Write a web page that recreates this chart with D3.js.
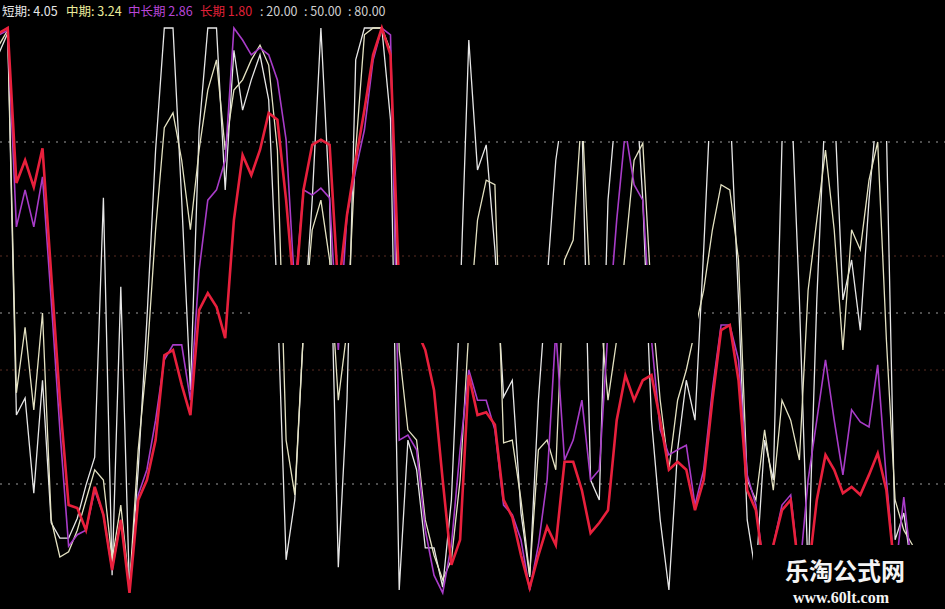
<!DOCTYPE html>
<html>
<head>
<meta charset="utf-8">
<script src="https://cdn.jsdelivr.net/npm/d3@7"></script>
<style>
  html, body { margin: 0; padding: 0; background: #000; }
  svg { display: block; }
</style>
</head>
<body>
<svg width="945" height="609"></svg>
<script>
// indicator values per bar (0..100)
const shortLine = [
  95.6, 99.1, 32.1, 35.1, 18.4, 38.2, 13.2, 10.5, 10.5, 14.0,
  19.8, 24.7, 70.2, 4.0, 54.6, 1.1, 22.5, 48.8, 78.6, 100,
  100, 69.8, 36.5, 82.1, 100, 100, 71.6, 96.1, 85.6, 90.9,
  95.3, 87.4, 52.3, 6.7, 17.2, 47.0, 69.8, 100, 69.8, 5.4,
  34.7, 94.4, 100, 100, 100, 83.9, 1.4, 27.7, 22.5, 8.8,
  8.8, 1.9, 17.2, 52.3, 97.9, 75.1, 79.5, 61.1, 35.3, 38.2,
  14.9, 3.7, 34.7, 55.8, 76.8, 87.4, 87.4, 83.9, 20.7, 17.2,
  69.8, 87.4, 90.9, 94.4, 69.8, 31.2, 13.7, 1.4, 26.0, 38.2,
  31.2, 61.1, 94.4, 94.4, 87.4, 52.3, 13.7, 4.0, 27.7, 20.7,
  80.0, 90.9, 52.3, 4.0, 52.3, 87.4, 87.4, 52.3, 59.3, 47.0,
  69.8, 87.4, 82.1, 10.2, 14.9, 4.0
];
const midLine = [
  97.0, 99.6, 36.0, 47.5, 33.0, 50.0, 13.7, 7.2, 8.1, 11.9,
  17.2, 22.5, 20.7, 6.7, 16.3, 1.9, 26.0, 41.8, 64.6, 82.5,
  85.1, 76.8, 64.6, 78.6, 89.1, 94.4, 78.6, 89.1, 90.9, 94.4,
  97.0, 93.5, 78.6, 27.7, 18.1, 47.0, 64.6, 69.8, 59.3, 34.7,
  47.0, 78.6, 98.8, 100, 100, 96.1, 43.5, 29.5, 27.7, 13.7,
  7.5, 3.2, 6.7, 20.7, 47.0, 66.3, 73.3, 72.5, 27.2, 27.7,
  17.2, 4.0, 26.0, 27.7, 22.5, 59.3, 62.8, 85.6, 52.3, 52.3,
  34.7, 45.3, 61.1, 76.8, 79.8, 52.3, 34.7, 22.5, 34.7, 40.0,
  47.0, 54.0, 64.6, 72.5, 71.6, 59.3, 20.7, 17.2, 29.5, 18.9,
  34.7, 31.2, 24.2, 54.0, 66.3, 78.6, 64.6, 43.5, 64.6, 61.1,
  73.3, 80.0, 45.3, 17.2, 11.9, 9.3
];
const midLongLine = [
  98.8, 99.6, 65.1, 71.6, 65.1, 73.9, 52.3, 29.5, 9.1, 11.1,
  11.9, 18.9, 14.6, 4.9, 13.7, 1.4, 18.1, 22.5, 31.2, 41.8,
  44.4, 44.4, 34.7, 57.5, 69.8, 71.6, 76.8, 100, 97.9, 95.3,
  96.5, 95.3, 90.9, 80.4, 54.0, 71.6, 70.7, 71.9, 70.2, 43.5,
  67.2, 75.1, 82.1, 94.4, 100, 98.8, 27.7, 28.6, 26.0, 11.9,
  4.0, 0.9, 9.3, 26.0, 40.0, 34.7, 34.7, 29.5, 16.3, 14.6,
  10.2, 1.4, 9.3, 20.7, 47.0, 24.2, 27.7, 34.7, 20.7, 22.5,
  47.0, 66.3, 82.1, 72.5, 69.8, 45.3, 29.5, 25.1, 26.0, 26.8,
  16.3, 22.5, 36.5, 47.9, 47.9, 41.8, 21.6, 16.3, 4.0, 9.3,
  16.3, 18.1, 4.0, 20.7, 31.2, 41.8, 31.2, 21.6, 33.0, 30.9,
  30.0, 40.9, 20.7, 4.0, 17.7, 4.0
];
const longLine = [
  99.1, 100, 72.8, 76.8, 72.1, 78.9, 56.8, 34.7, 16.3, 15.8,
  11.9, 19.5, 14.6, 4.9, 13.7, 0.9, 17.2, 20.7, 27.7, 42.6,
  43.5, 37.4, 32.1, 50.5, 53.5, 51.1, 45.6, 66.3, 77.7, 74.2,
  78.6, 85.1, 83.9, 69.8, 52.3, 71.6, 79.5, 80.4, 79.5, 54.0,
  67.2, 76.8, 85.6, 95.3, 100, 95.3, 54.0, 50.5, 47.0, 43.5,
  36.5, 20.7, 5.8, 10.2, 39.1, 32.1, 32.6, 30.4, 17.2, 14.2,
  7.5, 1.8, 7.5, 12.5, 9.3, 23.9, 23.9, 18.9, 11.4, 13.2,
  15.4, 31.2, 39.1, 34.7, 38.2, 39.1, 31.2, 22.5, 23.9, 22.5,
  15.4, 20.7, 34.7, 47.0, 47.9, 38.2, 18.9, 15.4, 4.0, 9.3,
  15.4, 17.2, 4.0, 4.0, 17.2, 25.1, 22.5, 18.4, 19.5, 18.1,
  21.6, 25.4, 18.9, 4.0, 4.0, 4.0
];

const seriesNames = ['短期', '中期', '中长期', '长期'];
const lastValues = [4.05, 3.24, 2.86, 1.80];
const seriesColors = ['#e6e6e6', '#e4e2c2', '#a83cc8', '#e8203c'];
const labelColors = ['#e8e8e8', '#ecec9c', '#b846d8', '#e02038'];
const levels = [20, 50, 80];
const minorLevels = [40, 60];

const svg = d3.select('svg');
const width = 945;
const height = 609;

const bars = d3.range(longLine.length);

const x = d3.scaleLinear().domain([0, bars.length - 1]).range([-1, 912.5]);
const y = d3.scaleLinear().domain([0, 100]).range([598, 28]);

// dotted reference lines
svg.append('g')
  .selectAll('line')
  .data(minorLevels)
  .enter()
  .append('line')
  .attr('x1', 0).attr('x2', width)
  .attr('y1', d => y(d)).attr('y2', d => y(d))
  .attr('stroke', '#5a2c22')
  .attr('stroke-width', 1)
  .attr('stroke-dasharray', '2,4');

svg.append('g')
  .selectAll('line')
  .data(levels)
  .enter()
  .append('line')
  .attr('x1', 0).attr('x2', width)
  .attr('y1', d => y(d)).attr('y2', d => y(d))
  .attr('stroke', '#9c9c9c')
  .attr('stroke-width', 1)
  .attr('stroke-dasharray', '2,6');

// the four lines
const line = d3.line()
  .x((d, i) => x(i))
  .y(d => y(d));

const allSeries = [shortLine, midLine, midLongLine, longLine];
const widths = [1.3, 1.3, 1.6, 2.6];

svg.append('g')
  .selectAll('path')
  .data(allSeries)
  .enter()
  .append('path')
  .attr('d', d => line(d))
  .attr('fill', 'none')
  .attr('stroke', (d, i) => seriesColors[i])
  .attr('stroke-width', (d, i) => widths[i])
  .attr('stroke-linejoin', 'miter');

// blacked-out parts of the screenshot
svg.append('rect').attr('x', 482).attr('y', 0).attr('width', width - 482).attr('height', 141).attr('fill', '#000');
svg.append('rect').attr('x', 252).attr('y', 265).attr('width', 446).attr('height', 78).attr('fill', '#000');
svg.append('rect').attr('x', 753).attr('y', 545).attr('width', width - 753).attr('height', height - 545).attr('fill', '#000');

// legend across the top
const legend = svg.append('text')
  .attr('y', 16)
  .attr('font-family', '"Noto Sans CJK SC", sans-serif')
  .attr('font-size', 12.5);

const legendX = [2, 66, 128, 200];
seriesNames.forEach((name, i) => {
  const sep = i < 2 ? ': ' : ' ';
  legend.append('tspan')
    .attr('x', legendX[i])
    .attr('fill', labelColors[i])
    .text(name + sep + lastValues[i].toFixed(2));
});
levels.forEach((lv, i) => {
  legend.append('tspan')
    .attr('x', 260 + i * 44)
    .attr('fill', '#cfcfcf')
    .text(': ' + lv.toFixed(2));
});

// watermark
svg.append('text')
  .attr('x', 845).attr('y', 580)
  .attr('text-anchor', 'middle')
  .attr('font-family', '"Noto Sans CJK SC", sans-serif')
  .attr('font-weight', 700)
  .attr('font-size', 24)
  .attr('fill', '#f4f4f4')
  .text('乐淘公式网');

svg.append('text')
  .attr('x', 841).attr('y', 603)
  .attr('text-anchor', 'middle')
  .attr('font-family', '"Liberation Serif", serif')
  .attr('font-weight', 700)
  .attr('font-size', 16)
  .attr('fill', '#f4f4f4')
  .text('www.60lt.com');
</script>
</body>
</html>
